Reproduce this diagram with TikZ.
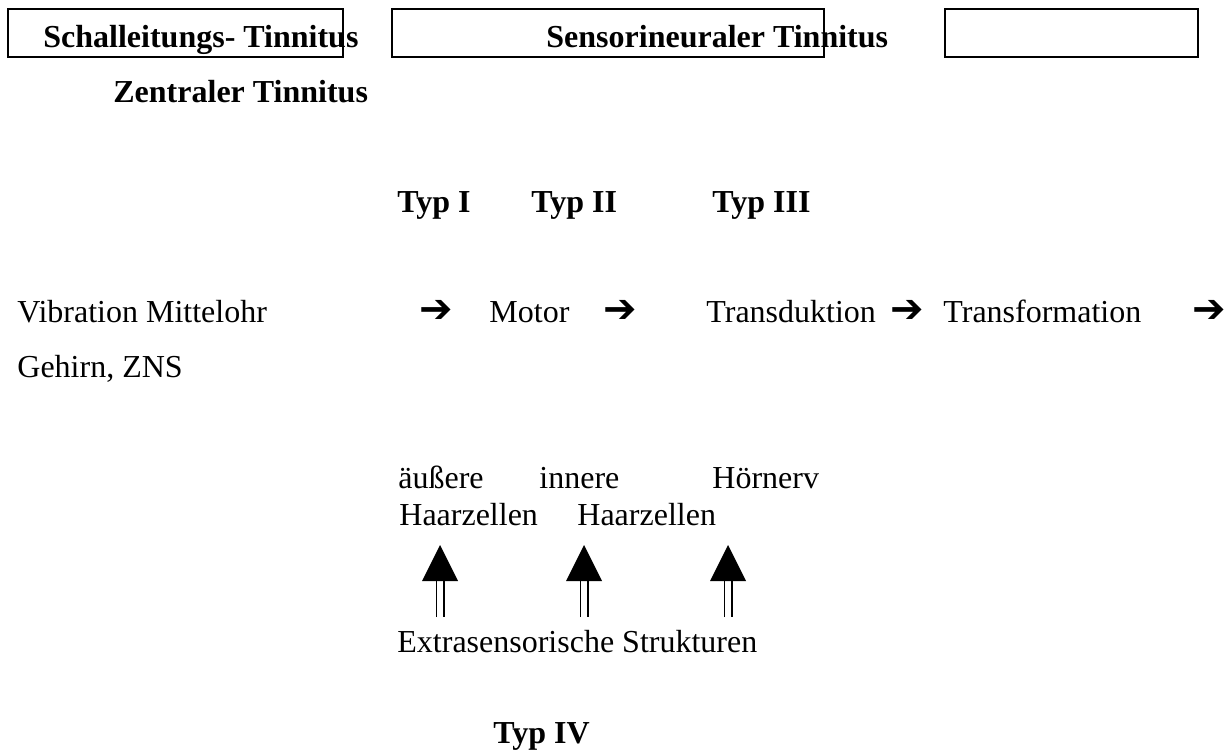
\documentclass[tikz,border=0pt]{standalone}
\usepackage{fontspec}
\setmainfont{Liberation Serif}
\newfontfamily\pfeilfont{DejaVu Sans}
\begin{document}
\begin{tikzpicture}[x=0.5pt, y=-0.5pt,
 txt/.style={anchor=base west, inner sep=0pt, font=\fontsize{16}{19}\selectfont},
 typ/.style={anchor=base west, inner sep=0pt, font=\fontsize{16}{19}\selectfont\bfseries},
 pfeil/.style={anchor=center, inner sep=0pt, font=\fontsize{20}{24}\selectfont\pfeilfont},
 kasten/.style={line width=1pt},
 schaft/.style={double, double distance=2.9pt, line width=0.8pt}]
 \useasboundingbox (0,0) rectangle (1224,751);

 \draw[kasten] (8,9) rectangle (343,57);
 \draw[kasten] (392,9) rectangle (824,57);
 \draw[kasten] (945,9) rectangle (1198,57);
 \draw node[typ] (schall) at (43,47) {Schalleitungs- Tinnitus};
 \draw node[typ] (sensor) at (546,47) {Sensorineuraler Tinnitus};
 \draw node[typ] (zentral) at (113,102) {Zentraler Tinnitus};

 \draw node[typ] (typ1) at (397,212) {Typ I};
 \draw node[typ] (typ2) at (531,212) {Typ II};
 \draw node[typ] (typ3) at (712,212) {Typ III};

 \draw node[txt] (vib) at (17,322) {Vibration Mittelohr};
 \draw node[pfeil] (p1) at (436,311) {➔};
 \draw node[txt] (motor) at (489,322) {Motor};
 \draw node[pfeil] (p2) at (620,311) {➔};
 \draw node[txt] (transd) at (706,322) {Transduktion};
 \draw node[pfeil] (p3) at (907,311) {➔};
 \draw node[txt] (transf) at (943,322) {Transformation};
 \draw node[pfeil] (p4) at (1209,311) {➔};
 \draw node[txt] (gehirn) at (17,377) {Gehirn, ZNS};

 \draw node[txt] (aussen) at (398,488) {äußere};
 \draw node[txt] (innen) at (539,488) {innere};
 \draw node[txt] (nerv) at (712,488) {Hörnerv};
 \draw node[txt] (haar1) at (399,525) {Haarzellen};
 \draw node[txt] (haar2) at (577,525) {Haarzellen};

 \draw node[txt] (extra) at (397,652) {Extrasensorische Strukturen};
 \draw node[typ] (typ4) at (493,743) {Typ IV};

 \coordinate (u1) at (440,617);
 \coordinate (b1) at (440,581);
 \coordinate (s1) at (440,545);
 \draw[schaft] (u1) -- (b1);
 \fill (s1) -- ++(-18,36) -- ++(36,0) -- cycle;

 \coordinate (u2) at (584,617);
 \coordinate (b2) at (584,581);
 \coordinate (s2) at (584,545);
 \draw[schaft] (u2) -- (b2);
 \fill (s2) -- ++(-18,36) -- ++(36,0) -- cycle;

 \coordinate (u3) at (728,617);
 \coordinate (b3) at (728,581);
 \coordinate (s3) at (728,545);
 \draw[schaft] (u3) -- (b3);
 \fill (s3) -- ++(-18,36) -- ++(36,0) -- cycle;
\end{tikzpicture}
\end{document}
